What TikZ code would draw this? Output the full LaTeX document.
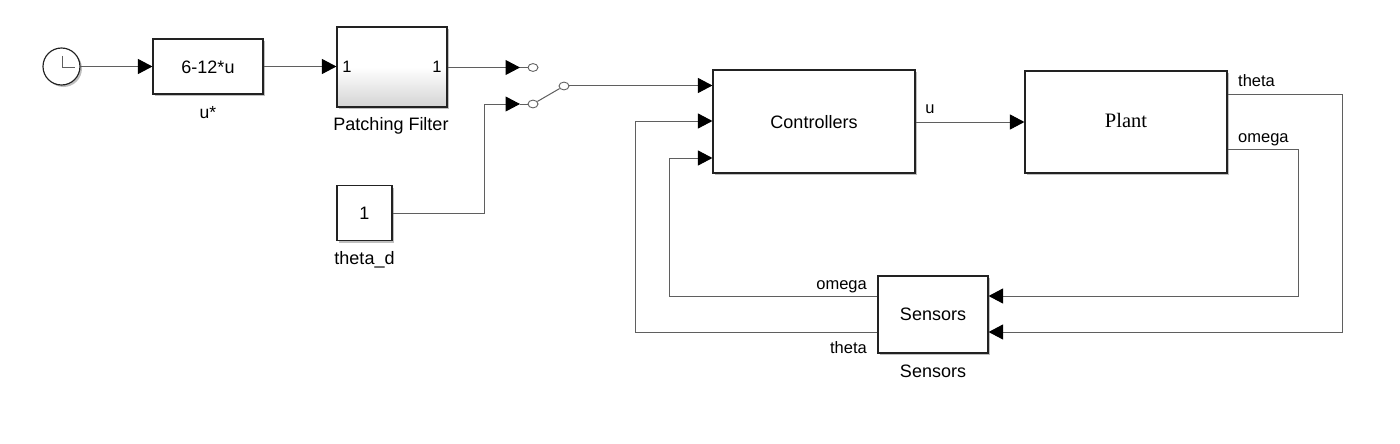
\documentclass[tikz,border=0pt]{standalone}
\usepackage{fontspec}
\setmainfont{Liberation Sans}
\newfontfamily\plantfont{Liberation Serif}
\usetikzlibrary{arrows.meta,shadows,shapes.geometric}
\definecolor{wirecol}{HTML}{5F5F5F}
\definecolor{edgecol}{HTML}{222222}
\tikzset{
  x=1pt,y=-1pt,
  sim/.style={draw=edgecol,line width=1.15pt,fill=white,rectangle,inner sep=0pt,
    general shadow={shadow xshift=2pt,shadow yshift=-2pt,fill=black,opacity=0.25}},
  wire/.style={draw=wirecol,line width=1pt},
  arrowwire/.style={wire,-{Triangle[length=14.5pt,width=15pt,color=black,fill=black]}},
  port/.style={draw=wirecol,line width=0.9pt,fill=white,ellipse,inner sep=0pt,minimum width=10pt,minimum height=7.8pt},
  big/.style={font=\fontsize{18}{20}\selectfont,inner sep=0pt},
  small/.style={font=\fontsize{16.5}{18}\selectfont,inner sep=0pt},
}
\begin{document}
\begin{tikzpicture}
\useasboundingbox (0,0) rectangle (1400,444);
\fill[white] (0,0) rectangle (1400,444);

% blocks
\node[sim,circle,minimum size=37pt] (clock) at (61.5,66.5) {};
\node[sim,minimum width=110pt,minimum height=55pt] (gain) at (208,66.5) {};
\node[big] (gaintext) at (208,67.5) {6-12*u};
\node[sim,minimum width=110pt,minimum height=80pt,top color=white,bottom color=black!17,middle color=white] (filter) at (392,67) {};
\node[sim,minimum width=55pt,minimum height=55pt,big] (const) at (364.5,213) {1};
\node[sim,minimum width=202pt,minimum height=103pt] (ctrl) at (814,121.5) {};
\node[big] (ctrltext) at (814,122.5) {Controllers};
\node[sim,minimum width=202pt,minimum height=102pt] (plant) at (1126,122) {};
\node[font=\plantfont\fontsize{20.5}{22}\selectfont,inner sep=0pt] (planttext) at (1126,120.5) {Plant};
\node[sim,minimum width=110pt,minimum height=77pt,big] (sens) at (933,314.5) {Sensors};

% clock hands
\coordinate (handtop) at (62,56);
\coordinate (handmid) at (62,67);
\coordinate (handend) at (75,67);
\draw[draw=wirecol,line width=0.9pt] (handtop) -- (handmid) -- (handend);

% filter port numbers
\node[small] (fin) at (347,67) {1};
\node[small] (fout) at (437,67) {1};

% captions
\node[big,font=\fontsize{17.5}{20}\selectfont] (gaincap) at (208,113) {u*};
\node[big] (filtercap) at (391,126) {Patching Filter};
\node[big] (constcap) at (364.5,260) {theta\_d};
\node[big] (senscap) at (933,371) {Sensors};

% signal labels
\node[small] (ulab) at (930,109) {u};
\node[small,anchor=west] (thetaout) at (1238,81) {theta};
\node[small,anchor=west] (omegaout) at (1238,140) {omega};
\node[small,anchor=east] (omegas) at (867,287) {omega};
\node[small,anchor=east] (thetas) at (867,348) {theta};

% switch
\node[port] (sa) at (533,67.5) {};
\node[port] (sb) at (533,104) {};
\node[port] (sc) at (564,86) {};
\coordinate (ina) at (520,67.5);
\coordinate (inb) at (520,104);
\draw[wire] (ina) -- (sa);
\draw[wire] (inb) -- (sb);
\draw[wire] (sb) -- (sc);

% port coordinates
\coordinate (c1) at (ctrl.west |- 0,85.5);
\coordinate (c2) at (ctrl.west |- 0,121);
\coordinate (c3) at (ctrl.west |- 0,158);
\coordinate (s1) at (sens.east |- 0,296);
\coordinate (s2) at (sens.east |- 0,332);
\coordinate (pt) at (plant.east |- 0,94);
\coordinate (po) at (plant.east |- 0,149);
\coordinate (so) at (sens.west |- 0,296);
\coordinate (st) at (sens.west |- 0,332);

% connectors
\draw[arrowwire] (clock.east) -- (gain.west);
\draw[arrowwire] (gain.east) -- (gain.east -| filter.west);
\draw[arrowwire] (filter.east |- ina) -- (ina);
\draw[arrowwire] (const.east) -| (484,104) -- (inb);
\draw[arrowwire] (sc.east |- c1) -- (c1);
\draw[arrowwire] (ctrl.east |- plant.west) -- (plant.west);
\draw[arrowwire] (pt) -| (1342,332) -- (s2);
\draw[arrowwire] (po) -| (1298,296) -- (s1);
\draw[arrowwire] (so) -| (669,158) -- (c3);
\draw[arrowwire] (st) -| (635,121) -- (c2);
\end{tikzpicture}
\end{document}
